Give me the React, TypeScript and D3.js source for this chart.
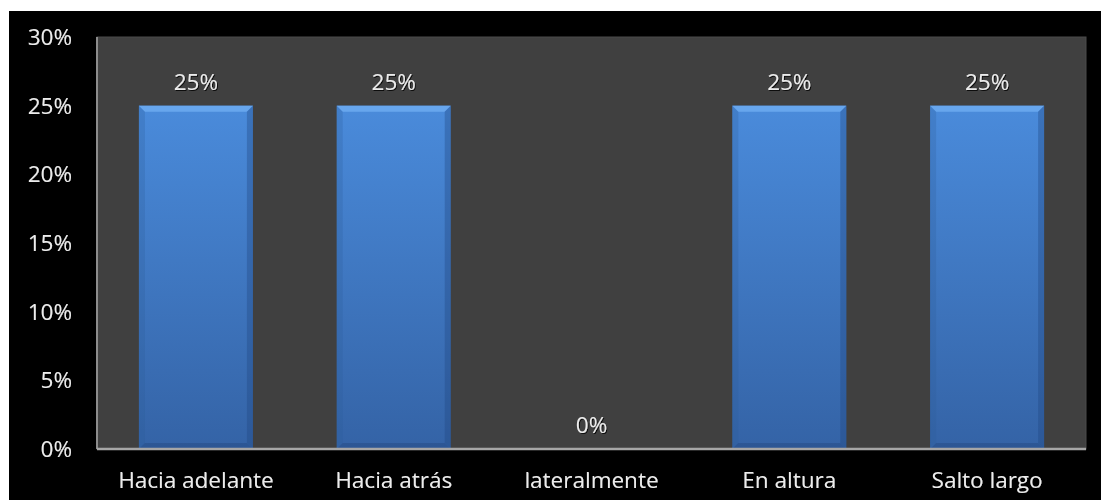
import React from "react";
import * as d3 from "d3";

const categories = ["Hacia adelante", "Hacia atrás", "lateralmente", "En altura", "Salto largo"];
const values = [0.25, 0.25, 0, 0.25, 0.25];
const yTicks = [0, 0.05, 0.1, 0.15, 0.2, 0.25, 0.3];

const W = 1101;
const H = 500;
const plot = { left: 97, right: 1086, top: 37, bottom: 449 };

export default function App() {
  const x = d3
    .scaleBand<string>()
    .domain(categories)
    .range([plot.left, plot.right])
    .paddingInner(0.4236)
    .paddingOuter(0.2118);
  const y = d3.scaleLinear().domain([0, 0.3]).range([plot.bottom, plot.top]);
  const fmt = d3.format(".0%");
  const font = "'Open Sans', 'DejaVu Sans', sans-serif";
  const fs = 22.5;
  const txt = "#ececec";
  const b = 6;

  return (
    <svg
      width={W}
      height={H}
      style={{ position: "absolute", left: 0, top: 0, display: "block" }}
    >
      <defs>
        <linearGradient id="barGrad" x1="0" y1="0" x2="0" y2="1">
          <stop offset="0" stopColor="#4a8bdb" />
          <stop offset="1" stopColor="#3463a6" />
        </linearGradient>
        <filter id="ts" x="-20%" y="-20%" width="140%" height="140%">
          <feDropShadow dx="1" dy="1" stdDeviation="0.6" floodColor="#000" floodOpacity="0.8" />
        </filter>
      </defs>
      <rect x={0} y={0} width={W} height={H} fill="#ffffff" />
      <rect x={9} y={11} width={W - 9} height={H - 11} fill="#000000" />
      <rect
        x={plot.left}
        y={plot.top}
        width={plot.right - plot.left}
        height={plot.bottom - plot.top}
        fill="#404040"
        stroke="#4a4a4a"
        strokeWidth={1}
      />
      {categories.map((c, i) => {
        const v = values[i];
        const x0 = x(c)!;
        const bw = x.bandwidth();
        const y0 = y(v);
        const y1 = y(0);
        const h = y1 - y0;
        return (
          <g key={c}>
            {h > 0 && (
              <g>
                <rect x={x0} y={y0} width={bw} height={h} fill="url(#barGrad)" />
                <polygon
                  points={`${x0},${y0} ${x0 + bw},${y0} ${x0 + bw - b},${y0 + b} ${x0 + b},${y0 + b}`}
                  fill="#6aa8ee"
                  opacity={0.9}
                />
                <polygon
                  points={`${x0},${y0} ${x0 + b},${y0 + b} ${x0 + b},${y1 - b} ${x0},${y1}`}
                  fill="#2d5a98"
                  opacity={0.25}
                />
                <polygon
                  points={`${x0 + bw},${y0} ${x0 + bw - b},${y0 + b} ${x0 + bw - b},${y1 - b} ${x0 + bw},${y1}`}
                  fill="#1f467e"
                  opacity={0.35}
                />
                <polygon
                  points={`${x0},${y1} ${x0 + b},${y1 - b} ${x0 + bw - b},${y1 - b} ${x0 + bw},${y1}`}
                  fill="#284f88"
                  opacity={0.6}
                />
              </g>
            )}
            <text
              x={x0 + bw / 2}
              y={y0 - 16}
              textAnchor="middle"
              fontFamily={font}
              fontSize={fs}
              fill={txt}
              filter="url(#ts)"
            >
              {fmt(v)}
            </text>
            <text
              x={x0 + bw / 2}
              y={488}
              textAnchor="middle"
              fontFamily={font}
              fontSize={fs}
              fill={txt}
              filter="url(#ts)"
            >
              {c}
            </text>
          </g>
        );
      })}
      <line x1={plot.left} x2={plot.left} y1={plot.top} y2={plot.bottom} stroke="#8c8c8c" strokeWidth={2} />
      <line x1={plot.left} x2={plot.right} y1={plot.bottom} y2={plot.bottom} stroke="#a6a6a6" strokeWidth={2.5} />
      {yTicks.map((t) => (
        <text
          key={t}
          x={72}
          y={y(t)}
          dy="0.36em"
          textAnchor="end"
          fontFamily={font}
          fontSize={fs}
          fill={txt}
          filter="url(#ts)"
        >
          {fmt(t)}
        </text>
      ))}
    </svg>
  );
}
